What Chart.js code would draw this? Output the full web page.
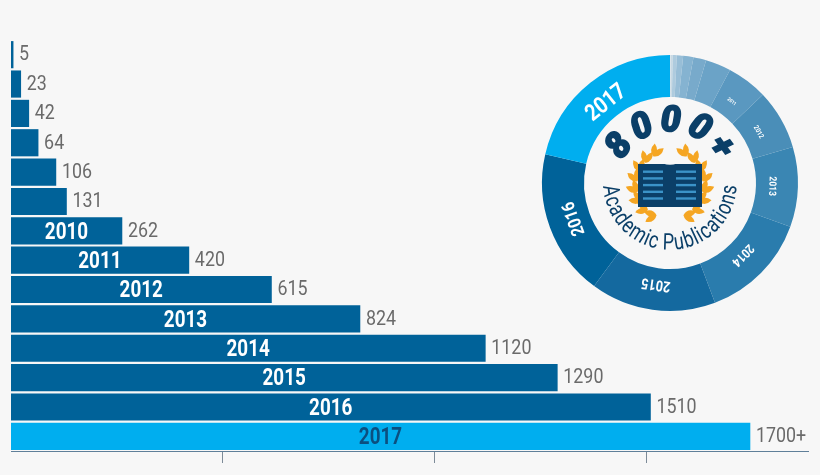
<!DOCTYPE html>
<html>
<head>
<meta charset="utf-8">
<script src="https://cdn.jsdelivr.net/npm/chart.js@4"></script>
<style>
  html, body { margin: 0; padding: 0; background: #f7f7f7; }
  #wrap { position: relative; width: 820px; height: 475px; overflow: hidden; }
  #bars { position: absolute; left: 0; top: 0; }
  #ring { position: absolute; left: 530px; top: 43px; }
</style>
</head>
<body>
<div id="wrap">
  <canvas id="bars" width="820" height="475"></canvas>
  <canvas id="ring" width="280" height="280"></canvas>
</div>
<script>
const years = ['2004','2005','2006','2007','2008','2009','2010','2011','2012','2013','2014','2015','2016','2017'];
const publications = [5, 23, 42, 64, 106, 131, 262, 420, 615, 824, 1120, 1290, 1510, 1745];
const valueLabels = ['5','23','42','64','106','131','262','420','615','824','1120','1290','1510','1700+'];
const ringColors = ['#dfe8ee','#c8d9e4','#aecbde','#98bed7','#85b3d1','#78aacb','#6ba3c7','#5a98c0','#4a8eb8','#3a86b3','#2a7cad','#14699f','#006299','#00aeef'];
const ringFontSizes = [0,0,0,0,0,0,0,5,7,10,13,15,18,23];

const FONT = 'Roboto, sans-serif';
const NAVY = '#0b3f68';

// no condensed face is installed, so squeeze the text sideways
function narrowText(ctx, text, x, y, squeeze) {
  ctx.save();
  ctx.translate(x, y);
  ctx.scale(squeeze, 1);
  ctx.fillText(text, 0, 0);
  ctx.restore();
}

// value at the end of each bar, year inside it from 2010 on
const barLabels = {
  id: 'barLabels',
  afterDatasetsDraw(chart) {
    const ctx = chart.ctx;
    const meta = chart.getDatasetMeta(0);
    ctx.save();
    ctx.textBaseline = 'middle';
    meta.data.forEach((bar, i) => {
      ctx.textAlign = 'left';
      ctx.fillStyle = '#6a6a6a';
      ctx.font = '21px ' + FONT;
      narrowText(ctx, valueLabels[i], bar.x + 6, bar.y + 0.5, 0.85);
      if (i >= 6) {
        ctx.textAlign = 'center';
        ctx.fillStyle = i === 13 ? '#0b4f80' : '#ffffff';
        ctx.font = 'bold 23px ' + FONT;
        narrowText(ctx, years[i], (bar.base + bar.x) / 2, bar.y + 2, 0.82);
      }
    });
    ctx.restore();
  }
};

new Chart(document.getElementById('bars'), {
  type: 'bar',
  data: {
    labels: years,
    datasets: [{
      data: publications,
      backgroundColor: (c) => c.dataIndex === 13 ? '#00aeef' : '#006299',
      barThickness: 26.5
    }]
  },
  options: {
    indexAxis: 'y',
    responsive: false,
    animation: false,
    layout: { padding: { left: 11, right: 12, top: 40, bottom: 12 } },
    plugins: { legend: { display: false }, tooltip: { enabled: false } },
    scales: {
      x: {
        min: 0,
        max: 1882,
        afterBuildTicks: (axis) => { axis.ticks = [{ value: 500 }, { value: 1000 }, { value: 1500 }]; },
        grid: { drawOnChartArea: false, drawTicks: true, tickLength: 12, color: '#7d8b98' },
        border: { display: true, color: '#5f7f99', width: 1 },
        ticks: { display: false }
      },
      y: { display: false }
    }
  },
  plugins: [barLabels]
});

// text set along a circle, centred on angle mid (radians, 0 = top), spaced by glyph width
function arcText(ctx, text, cx, cy, r, mid, squeeze, track, inward, outline) {
  const widths = [...text].map((c) => ctx.measureText(c).width * squeeze + track);
  const total = widths.reduce((a, b) => a + b, 0);
  let run = -total / 2;
  widths.forEach((w, i) => {
    const off = (run + w / 2) / r;
    const a = inward ? mid + off : mid - off;
    ctx.save();
    ctx.translate(cx + r * Math.sin(a), cy - r * Math.cos(a));
    ctx.rotate(inward ? a : a + Math.PI);
    ctx.scale(squeeze, 1);
    ctx.fillText(text[i], 0, 0);
    if (outline) ctx.strokeText(text[i], 0, 0);
    ctx.restore();
    run += w;
  });
}

function drawLaurel(ctx, cx, cy) {
  ctx.fillStyle = '#f5a623';
  [-1, 1].forEach((side) => {
    for (let deg = 156; deg >= 30; deg -= 18) {
      const a = deg * Math.PI / 180;
      const px = side * 33 * Math.sin(a), py = -33 * Math.cos(a);
      [0.15, 0.95].forEach((t) => {
        const dx = -Math.cos(a) * Math.cos(t) + Math.sin(a) * Math.sin(t);
        const dy = -Math.sin(a) * Math.cos(t) - Math.cos(a) * Math.sin(t);
        ctx.save();
        ctx.translate(cx + px, cy + py);
        ctx.rotate(Math.atan2(dy, side * dx));
        ctx.beginPath();
        ctx.moveTo(0, 0);
        ctx.quadraticCurveTo(6, -6, 13, 0);
        ctx.quadraticCurveTo(6, 6, 0, 0);
        ctx.fill();
        ctx.restore();
      });
    }
  });
}

function drawBook(ctx, cx, cy) {
  ctx.fillStyle = NAVY;
  ctx.fillRect(cx - 32, cy - 21, 64, 43);
  ctx.fillStyle = '#3b93c8';
  for (let k = 0; k < 5; k++) {
    const y = cy - 14.5 + k * 6.7;
    ctx.fillRect(cx - 27, y, 20, 2.4);
    ctx.fillRect(cx + 6, y, 20, 2.4);
  }
  ctx.fillStyle = '#f7f7f7';
  ctx.beginPath();
  ctx.moveTo(cx - 7, cy - 21.5);
  ctx.quadraticCurveTo(cx, cy - 19, cx + 7, cy - 21.5);
  ctx.fill();
}

const ringArt = {
  id: 'ringArt',
  afterDraw(chart) {
    const ctx = chart.ctx;
    const meta = chart.getDatasetMeta(0);
    const cx = meta.data[0].x, cy = meta.data[0].y;
    ctx.save();
    ctx.textAlign = 'center';
    ctx.textBaseline = 'middle';

    // year labels inside the slices
    meta.data.forEach((arc, i) => {
      if (!ringFontSizes[i]) return;
      const p = arc.getProps(['startAngle', 'endAngle'], true);
      const mid = (p.startAngle + p.endAngle) / 2;
      ctx.save();
      ctx.translate(cx + 102 * Math.cos(mid), cy + 102 * Math.sin(mid));
      ctx.rotate(mid + Math.PI / 2);
      ctx.fillStyle = '#ffffff';
      ctx.font = 'bold ' + ringFontSizes[i] + 'px ' + FONT;
      narrowText(ctx, years[i], 0, 0, 0.85);
      ctx.restore();
    });

    drawLaurel(ctx, cx, cy + 2);
    drawBook(ctx, cx, cy + 2);

    // headline
    ctx.fillStyle = NAVY;
    ctx.strokeStyle = NAVY;
    ctx.lineWidth = 1.6;
    ctx.font = 'italic 900 36px Roboto, sans-serif';
    arcText(ctx, '8000+', cx, cy + 1, 62, 0, 1, 9, true, true);

    // caption
    ctx.font = '23px ' + FONT;
    arcText(ctx, 'Academic Publications', cx, cy, 61, Math.PI, 0.78, 0.2, false, false);
    ctx.restore();
  }
};

new Chart(document.getElementById('ring'), {
  type: 'doughnut',
  data: {
    labels: years,
    datasets: [{ data: publications, backgroundColor: ringColors, borderWidth: 0 }]
  },
  options: {
    responsive: false,
    animation: false,
    cutout: 86,
    layout: { padding: 12 },
    plugins: { legend: { display: false }, tooltip: { enabled: false } }
  },
  plugins: [ringArt]
});
</script>
</body>
</html>
